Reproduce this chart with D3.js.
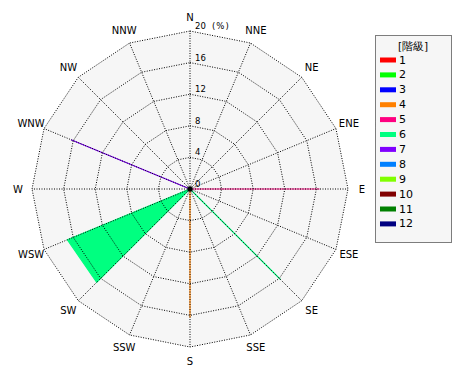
<!DOCTYPE html>
<html>
<head>
<meta charset="utf-8">
<script src="https://cdn.jsdelivr.net/npm/d3@7"></script>
<style>
  body { margin: 0; background: #fff; }
  text { font-family: "DejaVu Sans", sans-serif; }
</style>
</head>
<body>
<svg id="chart" width="470" height="380"></svg>
<script>
const directions = ["N", "NNE", "NE", "ENE", "E", "ESE", "SE", "SSE",
  "S", "SSW", "SW", "WSW", "W", "WNW", "NW", "NNW"];
const classes = ["1", "2", "3", "4", "5", "6", "7", "8", "9", "10", "11", "12"];
const classColors = ["#ff0000", "#00ff00", "#0000ff", "#ff8000", "#ff0080", "#00ff80",
  "#8000ff", "#0080ff", "#80ff00", "#800000", "#008000", "#000080"];
const ticks = [0, 4, 8, 12, 16, 20];
// frequency (%) per class, per direction N..NNW
const class4 = [0, 0, 0, 0, 0, 0, 0, 0, 16.3, 0, 0, 0, 0, 0, 0, 0];
const class5 = [0, 0, 0, 0, 16.4, 0, 0, 0, 0, 0, 0, 0, 0, 0, 0, 0];
const class6 = [0, 0, 0, 0, 0, 0, 16.2, 0, 0, 0, 16.7, 16.8, 0, 0, 0, 0];
const class7 = [0, 0, 0, 0, 0, 0, 0, 0, 0, 0, 0, 0, 0, 16.3, 0, 0];
const zeros = directions.map(() => 0);
const series = [zeros, zeros, zeros, class4, class5, class6, class7, zeros, zeros, zeros, zeros, zeros];

const svg = d3.select("#chart");
const cx = 190, cy = 189;
const r = d3.scaleLinear().domain([0, 20]).range([0, 158]);
const ang = d3.scaleLinear().domain([0, 16]).range([0, 2 * Math.PI]);

const g = svg.append("g").attr("transform", "translate(" + cx + "," + cy + ")");

const ring = d3.lineRadial()
  .angle((d, i) => ang(i))
  .radius(d => r(d))
  .curve(d3.curveLinearClosed);

// background
g.append("path")
  .attr("d", ring(directions.map(() => 20)))
  .attr("fill", "#f6f6f6");

// data polygons
series.forEach(function (vals, k) {
  g.append("path")
    .attr("d", ring(vals))
    .attr("fill", classColors[k])
    .attr("stroke", classColors[k])
    .attr("stroke-width", 1.2);
});

// grid rings
ticks.slice(1).forEach(function (t) {
  g.append("path")
    .attr("d", ring(directions.map(() => t)))
    .attr("fill", "none")
    .attr("stroke", "#000")
    .attr("stroke-dasharray", "1,1.5");
});

// spokes
directions.forEach(function (d, i) {
  const a = ang(i);
  g.append("line")
    .attr("x1", 0).attr("y1", 0)
    .attr("x2", r(20) * Math.sin(a))
    .attr("y2", -r(20) * Math.cos(a))
    .attr("stroke", "#000")
    .attr("stroke-dasharray", "1,1.5");
  g.append("text")
    .attr("x", 172 * Math.sin(a))
    .attr("y", -172 * Math.cos(a))
    .attr("text-anchor", "middle")
    .attr("dominant-baseline", "central")
    .attr("font-size", 10)
    .text(d);
});

g.append("circle").attr("r", 2.5).attr("fill", "#000");

// tick labels
ticks.forEach(function (t) {
  g.append("text")
    .attr("x", 5)
    .attr("y", -r(t) - 2)
    .attr("font-size", 8.5)
    .text(t);
});
g.append("text")
  .attr("x", 22)
  .attr("y", -r(20) - 2)
  .attr("font-size", 8.5)
  .attr("letter-spacing", 1)
  .text("(%)");

// legend
const lg = svg.append("g").attr("transform", "translate(375,35)");
lg.append("rect")
  .attr("x", 0.5).attr("y", 0.5)
  .attr("width", 76).attr("height", 207)
  .attr("fill", "#f6f6f6")
  .attr("stroke", "#000")
  .attr("stroke-dasharray", "1,1");
lg.append("text")
  .attr("x", 38).attr("y", 15)
  .attr("text-anchor", "middle")
  .attr("font-size", 10.5)
  .text("[階級]");
classes.forEach(function (c, k) {
  const y = 25 + k * 14.9;
  lg.append("rect")
    .attr("x", 5).attr("y", y - 2.5)
    .attr("width", 16).attr("height", 5)
    .attr("fill", classColors[k]);
  lg.append("text")
    .attr("x", 24).attr("y", y)
    .attr("dominant-baseline", "central")
    .attr("font-size", 11)
    .text(c);
});
</script>
</body>
</html>
